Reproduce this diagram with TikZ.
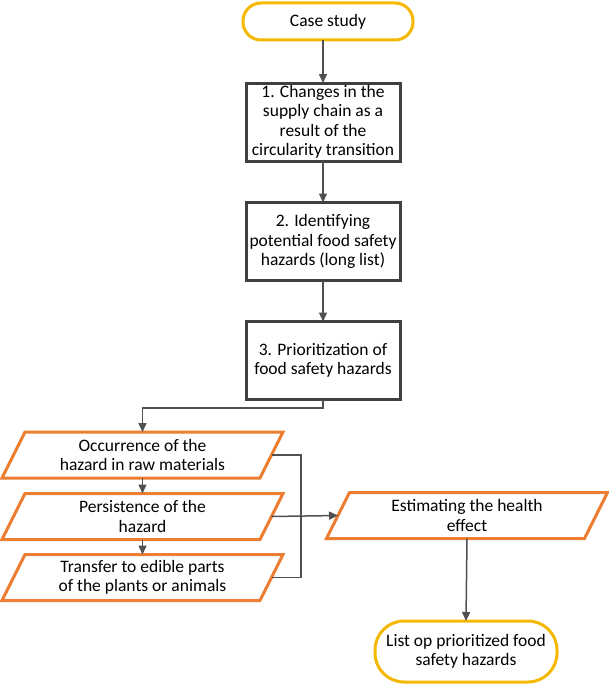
\documentclass[tikz,border=0pt]{standalone}
\usepackage{fontspec}
\setmainfont{Carlito}
\usetikzlibrary{arrows.meta,calc}
\definecolor{gold}{HTML}{F5B800}
\definecolor{orng}{HTML}{ED7D31}
\definecolor{dgray}{HTML}{404040}
\definecolor{cgray}{HTML}{505050}
\tikzset{
  base/.style={font=\fontsize{17.5}{19.5}\selectfont, align=center, inner sep=1pt, outer sep=0pt},
  stadium/.style={base, draw=gold, line width=3pt, rounded corners=18pt},
  stepbox/.style={base, draw=dgray, line width=3pt, minimum width=154pt, minimum height=78pt},
  paratext/.style={base, minimum width=258pt, minimum height=46pt},
  paraline/.style={draw=orng, line width=3pt, line join=miter},
  arr/.style={draw=cgray, line width=1.5pt, -{Triangle[length=9pt,width=8pt]}},
  ln/.style={draw=cgray, line width=1.5pt},
}
\begin{document}
\begin{tikzpicture}[x=1pt,y=-1pt]
\useasboundingbox (0,0) rectangle (609,685);
\node[stadium, minimum width=170pt, minimum height=37pt] (case) at (328,21.5) {Case study};
\node[stepbox] (b1) at (323,122) {1. Changes in the\\supply chain as a\\result of the\\circularity transition};
\node[stepbox] (b2) at (323,241.5) {2. Identifying\\potential food safety\\hazards (long list)};
\node[stepbox] (b3) at (323,360.5) {3. Prioritization of\\food safety hazards};
\node[paratext] (p1) at (142.5,455) {Occurrence of the\\hazard in raw materials};
\node[paratext] (p2) at (142.5,516.5) {Persistence of the\\hazard};
\node[paratext] (p3) at (142.5,577.5) {Transfer to edible parts\\of the plants or animals};
\node[paratext] (est) at (467,515.5) {Estimating the health\\effect};
\node[stadium, rounded corners=29pt, minimum width=182pt, minimum height=61pt] (fin) at (466,651.5) {List op prioritized food\\safety hazards};
\foreach \p in {p1,p2,p3,est}{
  \draw[paraline] ([xshift=11.5pt]\p.north west) -- ([xshift=11.5pt]\p.north east) -- ([xshift=-11.5pt]\p.south east) -- ([xshift=-11.5pt]\p.south west) -- cycle;
}
\coordinate (j) at (301,516.5);
\draw[arr] (case.south -| b1.north) -- (b1.north);
\draw[arr] (b1) -- (b2);
\draw[arr] (b2) -- (b3);
\draw[arr] (b3.south) -- ++(0,8.5) -| (p1.north);
\draw[arr] (p1) -- (p2);
\draw[arr] (p2) -- (p3);
\draw[ln] (p1.east) -| (j);
\draw[ln] (p3.east) -| (j);
\draw[arr] (p2.east) -- (est.west);
\draw[arr] (est.south) -- (fin.north);
\end{tikzpicture}
\end{document}
